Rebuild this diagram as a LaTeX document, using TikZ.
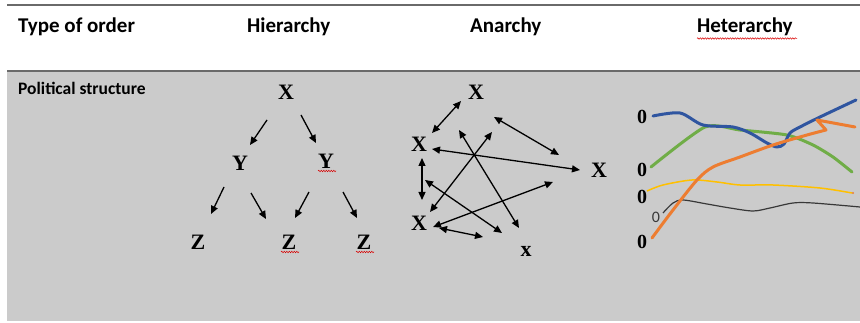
\documentclass[tikz,border=0pt]{standalone}
\usepackage{fontspec}
\setmainfont{Liberation Serif}
\newfontfamily\calib{Carlito}
\usetikzlibrary{arrows.meta,decorations.pathmorphing}
\definecolor{bggray}{HTML}{CBCBCB}
\definecolor{rulegray}{HTML}{6A6A6A}
\definecolor{ofblue}{HTML}{2F55A0}
\definecolor{ofgreen}{HTML}{70AD47}
\definecolor{oforange}{HTML}{ED7D31}
\definecolor{ofyellow}{HTML}{FFC000}
\definecolor{ofdark}{HTML}{383838}
\begin{document}
\begin{tikzpicture}[x=1pt,y=-1pt,
  hdr/.style={font=\calib\fontsize{21}{25}\selectfont\bfseries, inner sep=0pt, anchor=base west},
  sub/.style={font=\calib\fontsize{17.5}{21}\selectfont\bfseries, inner sep=0pt, anchor=base west},
  letter/.style={font=\fontsize{22}{26}\selectfont\bfseries, inner sep=0pt},
  zero/.style={font=\fontsize{20}{24}\selectfont\bfseries, inner sep=0pt},
  smallzero/.style={font=\calib\fontsize{16}{19}\selectfont, inner sep=0pt, text=ofdark},
  arr/.style={line width=1.3pt, -{Triangle[length=8pt,width=7pt]}},
  darr/.style={line width=1.3pt, {Triangle[length=8pt,width=7pt]}-{Triangle[length=8pt,width=7pt]}},
  squig/.style={red!85!black, line width=0.5pt, decorate, decoration={snake, amplitude=0.7pt, segment length=2.5pt}},
  rulestyle/.style={rulegray, line width=2.2pt},
  curve/.style={line width=3pt, line cap=round, line join=round}
]
\useasboundingbox (0,0) rectangle (860,323);
\fill[white] (0,0) rectangle (860,323);
\fill[bggray] (7,71) rectangle (860,321);
\draw[rulestyle] (7,5) -- (860,5);
\draw[rulestyle] (7,71) -- (860,71);

% headers
\node[hdr] (t1) at (18,33) {Type of order};
\node[hdr] (t2) at (247,33) {Hierarchy};
\node[hdr] (t3) at (470,33) {Anarchy};
\node[hdr] (t4) at (697,33) {Heterarchy};
\draw[squig] (t4.base west) ++(0,5.5) -- ++(100,0);
\node[sub] (ps) at (18,95) {Political structure};

% hierarchy
\node[letter] (hx) at (286,92) {X};
\node[letter] (hy1) at (240,163) {Y};
\node[letter] (hy2) at (326,161) {Y};
\node[letter] (hz1) at (198,242) {Z};
\node[letter] (hz2) at (289,242) {Z};
\node[letter] (hz3) at (364,242) {Z};
\draw[squig] (318,171) -- (336,171);
\draw[squig] (281,252) -- (299,252);
\draw[squig] (356,252) -- (374,252);
\coordinate (a1s) at (267,120); \coordinate (a1e) at (250,145);
\coordinate (a2s) at (301,115); \coordinate (a2e) at (316,143);
\coordinate (a3s) at (224,187); \coordinate (a3e) at (211,214);
\coordinate (a4s) at (251,193); \coordinate (a4e) at (266,219);
\coordinate (a5s) at (309,192); \coordinate (a5e) at (295,218);
\coordinate (a6s) at (343,192); \coordinate (a6e) at (357,218);
\draw[arr] (a1s) -- (a1e);
\draw[arr] (a2s) -- (a2e);
\draw[arr] (a3s) -- (a3e);
\draw[arr] (a4s) -- (a4e);
\draw[arr] (a5s) -- (a5e);
\draw[arr] (a6s) -- (a6e);

% anarchy
\node[letter] (ax1) at (476,92) {X};
\node[letter] (ax2) at (419,144) {X};
\node[letter] (ax3) at (599,170) {X};
\node[letter] (ax4) at (419,223) {X};
\node[letter] (ax5) at (526,251) {x};
\coordinate (b1s) at (461,101); \coordinate (b1e) at (432,133);
\coordinate (b2s) at (494,117); \coordinate (b2e) at (559,155);
\coordinate (b3s) at (432,149); \coordinate (b3e) at (580,170);
\coordinate (b4s) at (459,130); \coordinate (b4e) at (519,228);
\coordinate (b5s) at (492,132); \coordinate (b5e) at (430,212);
\coordinate (b6s) at (422,158); \coordinate (b6e) at (422,200);
\coordinate (b7s) at (425,180); \coordinate (b7e) at (502,233);
\coordinate (b8s) at (553,182); \coordinate (b8e) at (433,227);
\coordinate (b9s) at (439,228); \coordinate (b9e) at (483,237);
\foreach \i in {1,...,9} {\draw[darr] (b\i s) -- (b\i e);}

% heterarchy
\node[zero] (z1) at (642,117) {0};
\node[zero] (z2) at (642,170) {0};
\node[zero] (z3) at (642,197) {0};
\node[smallzero] (z4) at (656,217) {0};
\node[zero] (z5) at (642,242) {0};

\draw[ofdark, line width=1.2pt] plot[smooth, tension=0.5] coordinates {(663,213) (673,203) (683,200) (707,204) (730,208) (753,211) (770,208) (793,203) (813,203) (860,207)};
\draw[ofyellow, line width=1.5pt] plot[smooth, tension=0.5] coordinates {(647,191) (663,185) (692,180) (717,182) (740,185) (773,185) (820,188) (852,193)};
\fill[oforange] (853,193) circle (1.2pt);
\draw[ofgreen, curve] plot[smooth, tension=0.4] coordinates {(651,167) (705,127) (740,130) (787,135) (813,145) (833,157) (852,172)};
\draw[ofblue, curve] plot[smooth, tension=0.5] coordinates {(653,116) (680,113) (703,125) (733,127) (750,133) (767,143) (777,147) (784,144) (790,133) (800,127) (820,117) (856,100)};
\draw[oforange, curve] plot[smooth, tension=0.5] coordinates {(652,238) (673,210) (697,180) (713,167) (740,157) (773,145) (807,135) (826,130)} -- (817,120) -- (855,127);
\end{tikzpicture}
\end{document}
